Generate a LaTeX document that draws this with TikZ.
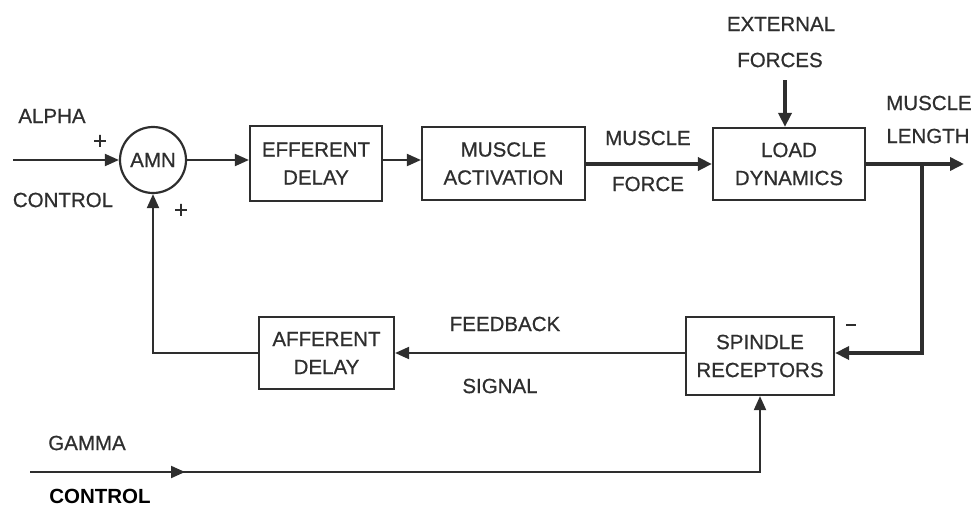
\documentclass[tikz,border=0pt]{standalone}
\usepackage{fontspec}
\setmainfont{Liberation Sans}
\newfontfamily\heavyfont[FakeBold=0.7]{Liberation Sans}
\usetikzlibrary{arrows.meta,decorations.markings}
\definecolor{ink}{HTML}{2E2E2E}
\begin{document}
\begin{tikzpicture}[x=1pt,y=-1pt,
  every node/.style={font=\heavyfont\fontsize{20.5}{25}\selectfont, text=ink},
  blk/.style={draw=ink, line width=2.2pt, rectangle, align=center, inner sep=0pt},
  lbl/.style={inner sep=0pt, align=center},
  thin/.style={draw=ink, line width=2pt},
  thick/.style={draw=ink, line width=3.6pt},
  tip/.style={-{Triangle[length=14pt,width=12pt]}},
  ttip/.style={-{Triangle[length=14pt,width=13pt]}}
]
\useasboundingbox (0,0) rectangle (977,509);
% blocks
\node[draw=ink, line width=2.2pt, circle, minimum size=66pt, inner sep=0pt] (amn) at (153,160) {AMN};
\node[blk, minimum width=132pt, minimum height=75pt] (eff) at (316,163.5) {EFFERENT\\[3pt]DELAY};
\node[blk, minimum width=163pt, minimum height=73pt] (act) at (503.5,163.5) {MUSCLE\\[3pt]ACTIVATION};
\node[blk, minimum width=152pt, minimum height=72pt] (load) at (789,164) {LOAD\\[3pt]DYNAMICS};
\node[blk, minimum width=148pt, minimum height=78pt] (spin) at (760,356) {SPINDLE\\[3pt]RECEPTORS};
\node[blk, minimum width=135pt, minimum height=72pt] (aff) at (326.5,353) {AFFERENT\\[3pt]DELAY};
% coordinates
\coordinate (ain) at (13,160);
\coordinate (ext) at (785,80);
\coordinate (out) at (964,164);
\coordinate (br) at (922,164);
\coordinate (brd) at (922,353);
\coordinate (gin) at (30,472);
% labels
\node[lbl] (alpha) at (52,116) {ALPHA};
\node[lbl] (actl) at (63,200) {CONTROL};
\node[lbl, font=\heavyfont\fontsize{24}{26}\selectfont] (p1) at (100,142) {+};
\node[lbl, font=\heavyfont\fontsize{24}{26}\selectfont] (p2) at (181,211) {+};
\node[lbl] (mf1) at (648,138) {MUSCLE};
\node[lbl] (mf2) at (648,184) {FORCE};
\node[lbl] (ex1) at (781,24) {EXTERNAL};
\node[lbl] (ex2) at (780,60) {FORCES};
\node[lbl] (ml1) at (929,103) {MUSCLE};
\node[lbl] (ml2) at (928,136) {LENGTH};
\node[lbl] (mn) at (851,325) {\rule{10pt}{2pt}};
\node[lbl] (fb1) at (505,324) {FEEDBACK};
\node[lbl] (fb2) at (500,386) {SIGNAL};
\node[lbl] (g1) at (87,443) {GAMMA};
\node[lbl, font=\fontsize{20.5}{25}\selectfont\bfseries, text=black] (g2) at (100,496) {CONTROL};
% connectors
\draw[thin, tip] (ain) -- (amn.west);
\draw[thin, tip] (amn.east) -- (amn -| eff.west);
\draw[thin, tip] (eff.east |- amn) -- (act.west |- amn);
\draw[thick, ttip] (act.east |- load.west) -- (load.west);
\draw[thick, ttip] (ext) -- (load.north -| ext);
\draw[thick, ttip] (load.east) -- (out);
\draw[thick, ttip] (br) -- (brd) -- (spin.east |- brd);
\draw[thin, tip] (spin.west |- aff.east) -- (aff.east);
\draw[thin, tip] (aff.west) -- (amn.south |- aff.west) -- (amn.south);
\draw[thin, tip, postaction={decorate}, decoration={markings, mark=at position 155pt with {\arrow{Triangle[length=14pt,width=12pt]}}}] (gin) -- (spin.south |- gin) -- (spin.south);
\end{tikzpicture}
\end{document}
